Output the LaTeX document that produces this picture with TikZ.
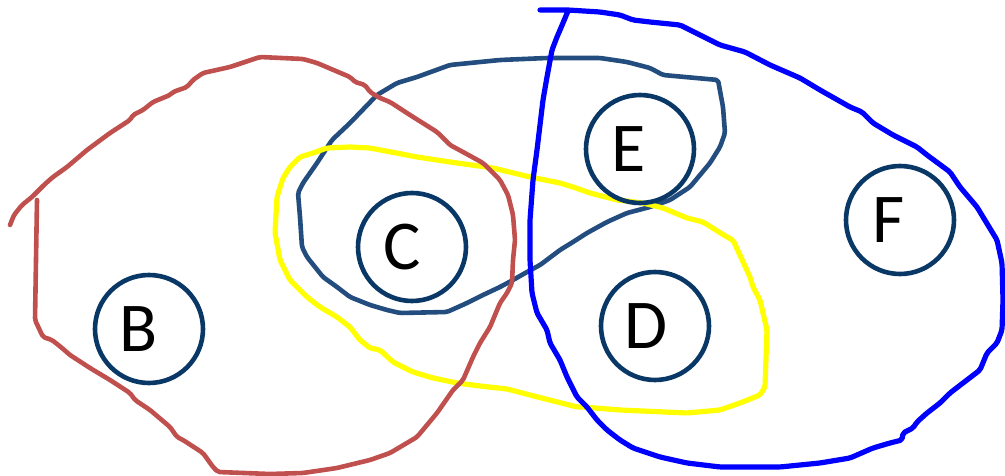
\documentclass[tikz,border=0pt]{standalone}
\usepackage{fontspec}
\newfontfamily\lblfont{Carlito}
\definecolor{redset}{HTML}{C0504D}
\definecolor{navyset}{HTML}{234D7E}
\definecolor{circset}{HTML}{0A3866}
\definecolor{blueset}{HTML}{0000FF}
\definecolor{yellowset}{HTML}{FFFF00}
\tikzset{
  setline/.style={line width=4.6pt, line join=round, line cap=round, rounded corners=2pt},
  setcircle/.style={circle, draw=circset, line width=4.6pt, minimum size=108pt, inner sep=0pt},
  setlabel/.style={font=\lblfont\fontsize{70}{70}\selectfont, text=black, inner sep=0pt}
}
\begin{document}
\begin{tikzpicture}[x=1pt,y=-1pt]
\useasboundingbox (0,0) rectangle (1005,476);
% dark blue set (C, E)
\draw[setline, draw=navyset] (350,123) -- (377,95) -- (397,83) -- (417,77) -- (450,65) -- (500,60) -- (547,58) -- (600,58) -- (627,62) -- (650,68) -- (663,75) -- (718,80) -- (723,107) -- (725,133) -- (720,147) -- (710,163) -- (690,187) -- (670,200) -- (650,207) -- (627,213) -- (607,222) -- (587,233) -- (573,242) -- (560,250) -- (540,265) -- (527,272) -- (513,280) -- (500,287) -- (483,295) -- (467,303) -- (447,312) -- (400,313) -- (387,310) -- (370,305) -- (350,297) -- (337,287) -- (323,277) -- (307,257) -- (302,247) -- (300,217) -- (298,193) -- (303,183) -- (317,163) -- (332,140) -- cycle;
% yellow set
\draw[setline, draw=yellowset, line width=5.2pt] (283,178) -- (290,167) -- (300,157) -- (313,153) -- (327,148) -- (350,147) -- (370,148) -- (417,157) -- (450,162) -- (493,168) -- (530,177) -- (560,183) -- (573,187) -- (590,193) -- (617,200) -- (643,203) -- (663,208) -- (687,218) -- (703,222) -- (727,237) -- (733,240) -- (750,277) -- (753,287) -- (760,300) -- (763,313) -- (767,330) -- (765,387) -- (760,395) -- (740,403) -- (720,410) -- (687,413) -- (620,410) -- (583,407) -- (577,407) -- (530,395) -- (507,389) -- (480,386) -- (457,383) -- (433,378) -- (413,372) -- (393,362) -- (380,350) -- (370,348) -- (360,340) -- (350,327) -- (337,317) -- (320,307) -- (307,297) -- (290,280) -- (280,260) -- (275,233) -- (277,197) -- cycle;
% red set (B, C)
\draw[setline, draw=redset] (10,225) -- (14,215) -- (22,205) -- (32,197) -- (37,192) -- (45,184) -- (53,177) -- (67,167) -- (87,150) -- (110,133) -- (130,120) -- (133,115) -- (143,110) -- (153,102) -- (170,95) -- (173,92) -- (187,87) -- (193,80) -- (203,73) -- (230,67) -- (260,57) -- (303,59) -- (317,63) -- (350,77) -- (355,82) -- (365,85) -- (370,92) -- (380,98) -- (390,102) -- (410,115) -- (437,132) -- (450,145) -- (463,152) -- (483,163) -- (490,170) -- (500,180) -- (508,195) -- (513,215) -- (515,240) -- (513,260) -- (512,283) -- (507,293) -- (500,303) -- (490,327) -- (480,343) -- (473,357) -- (463,380) -- (453,390) -- (437,413) -- (417,437) -- (390,453) -- (370,460) -- (337,468) -- (303,473) -- (270,474) -- (218,472) -- (213,467) -- (203,453) -- (183,440) -- (177,437) -- (170,427) -- (150,410) -- (135,400) -- (130,393) -- (110,380) -- (90,368) -- (70,355) -- (62,348) -- (52,340) -- (43,337) -- (35,320) -- (37,200);
% blue set (D, E, F)
\draw[setline, draw=blueset, line width=5.2pt] (540,10) -- (568,10) -- (600,12) -- (620,15) -- (633,20) -- (650,22) -- (680,25) -- (700,35) -- (720,45) -- (745,52) -- (770,65) -- (800,78) -- (820,90) -- (850,107) -- (862,112) -- (873,123) -- (893,135) -- (917,147) -- (927,155) -- (950,172) -- (960,187) -- (977,207) -- (983,217) -- (997,240) -- (1002,263) -- (1003,300) -- (1002,330) -- (997,343) -- (987,353) -- (980,370) -- (963,383) -- (950,393) -- (940,403) -- (927,413) -- (917,422) -- (913,428) -- (903,433) -- (902,440) -- (890,443) -- (873,448) -- (850,458) -- (820,463) -- (780,467) -- (720,467) -- (687,463) -- (660,457) -- (633,448) -- (620,440) -- (607,430) -- (597,420) -- (587,407) -- (577,397) -- (567,377) -- (560,360) -- (550,343) -- (547,330) -- (537,313) -- (532,293) -- (530,260) -- (530,220) -- (533,180) -- (537,150) -- (543,100) -- (547,77) -- (552,50) -- (557,37) -- (563,23) -- (568,11);
% circles
\node[setcircle] (b) at (149,329) {};
\node[setcircle] (c) at (412,247) {};
\node[setcircle] (d) at (655,326) {};
\node[setcircle] (e) at (640,149) {};
\node[setcircle] (f) at (900,220) {};
\node[setlabel] (bl) at ([xshift=-10pt]b.center) {B};
\node[setlabel] (cl) at ([xshift=-10pt]c.center) {C};
\node[setlabel] (dl) at ([xshift=-9pt]d.center) {D};
\node[setlabel] (el) at ([xshift=-11pt]e.center) {E};
\node[setlabel] (fl) at ([xshift=-11pt]f.center) {F};
\end{tikzpicture}
\end{document}
